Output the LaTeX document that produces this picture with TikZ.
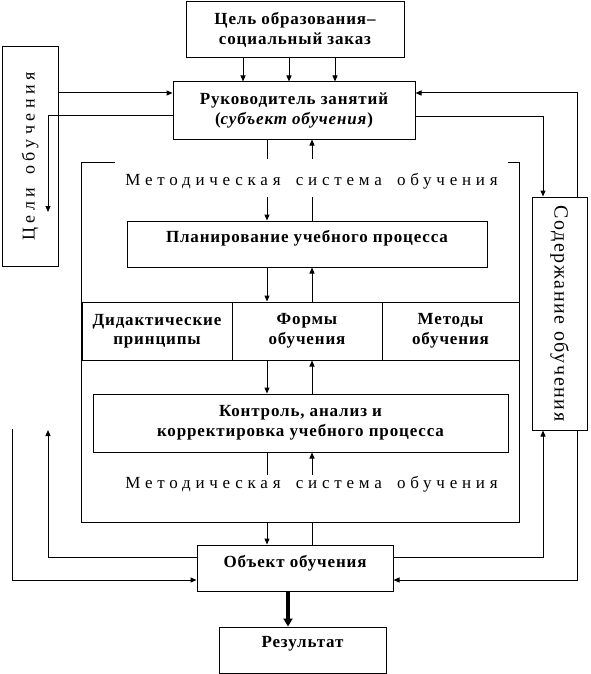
\documentclass[tikz,border=0pt]{standalone}
\usepackage{fontspec}
\setmainfont{Liberation Serif}
\newfontfamily\boxfont[LetterSpace=5]{Liberation Serif}
\newfontfamily\titlefont[LetterSpace=28,WordSpace=1.7]{Liberation Serif}
\newfontfamily\sidefont[LetterSpace=25,WordSpace=1.4]{Liberation Serif}
\newfontfamily\rsidefont[LetterSpace=8]{Liberation Serif}
\usetikzlibrary{arrows.meta}
\tikzset{
  conn/.style={line width=1pt},
  arr/.style={conn, -{Triangle[length=6pt,width=5pt]}},
  fatarr/.style={line width=4pt, -{Triangle[length=8pt,width=9pt]}},
  blk/.style={draw, line width=1pt, inner sep=0pt, align=center,
    font={\fontsize{17}{19.5}\boxfont\bfseries}},
  ttl/.style={inner sep=0pt, anchor=base, font={\fontsize{17}{20}\titlefont}},
}
\begin{document}
\begin{tikzpicture}[x=1pt,y={(0pt,-1pt)}]
\useasboundingbox (0,0) rectangle (590,674);
% column coordinates
\coordinate (cA) at (267,0);
\coordinate (cB) at (312,0);
\coordinate (g1) at (243,0);
\coordinate (g2) at (289,0);
\coordinate (g3) at (335,0);
\coordinate (yA) at (0,93);
\coordinate (yB) at (0,116);
\coordinate (yC) at (0,117);
\coordinate (yD) at (0,557);
\coordinate (yE) at (0,580);
\coordinate (xR1) at (543,0);
\coordinate (xR2) at (577,0);
\coordinate (xT) at (288,0);
\coordinate (lA) at (48,212);
\coordinate (lB) at (48,430);
\coordinate (lC) at (12,429);

% boxes
\node[blk, minimum width=218pt, minimum height=56pt] (goal) at (295,30)
  {Цель образования–\\социальный заказ};
\node[blk, minimum width=242pt, minimum height=57pt] (ruk) at (294,110.5)
  {Руководитель занятий\\(\textit{субъект обучения})};
\node[draw, line width=1pt, inner sep=0pt, minimum width=56pt, minimum height=219pt,
  font={\fontsize{18}{20}\sidefont}] (lbox) at (30,156.5)
  {\rotatebox{90}{Цели обучения}};
\node[draw, line width=1pt, inner sep=0pt, minimum width=55pt, minimum height=233pt,
  font={\fontsize{20}{22}\rsidefont}] (rbox) at (559.5,313.5)
  {\rotatebox{-90}{Содержание обучения}};

% methodical system frame
\node[inner sep=0pt, minimum width=437pt, minimum height=359pt] (msys) at (300.5,342.5) {};
\draw[conn] ([xshift=33pt]msys.north west) -- (msys.north west) -- (msys.south west)
  -- (msys.south east) -- (msys.north east) -- ([xshift=-11pt]msys.north east);
\node[ttl, text height=26pt, text depth=12pt] (t1) at (311.5,185) {Методическая система обучения};
\node[ttl, text height=13pt, text depth=3pt] (t2) at (311.5,488) {Методическая система обучения};

\node[blk, minimum width=360pt, minimum height=46pt, text height=6pt, text depth=10pt] (plan) at (307,244)
  {Планирование учебного процесса};
\node[blk, minimum width=150pt, minimum height=58pt] (dp) at (157,331)
  {Дидактические\\принципы};
\node[blk, minimum width=150pt, minimum height=58pt] (fm) at (307,331)
  {Формы\\обучения};
\node[blk, minimum width=137pt, minimum height=58pt] (md) at (450.5,331)
  {Методы\\обучения};
\node[blk, minimum width=415pt, minimum height=58pt] (ctrl) at (300.5,423)
  {Контроль, анализ и\\корректировка учебного процесса};
\node[blk, minimum width=196pt, minimum height=46pt, text height=7pt, text depth=9pt] (obj) at (295,568)
  {Объект обучения};
\node[blk, minimum width=167pt, minimum height=46pt, text height=5pt, text depth=11pt] (res) at (302.5,650)
  {Результат};

% connectors: goal -> ruk
\foreach \g in {g1,g2,g3} \draw[arr] (goal.south -| \g) -- (ruk.north -| \g);
% left side
\draw[arr] (lbox.east |- yA) -- (ruk.west |- yA);
\draw[arr] (ruk.west |- yB) -| (lA);
\draw[arr] (obj.west |- yD) -| (lB);
\draw[arr] (lC) |- (obj.west |- yE);
% right side
\draw[arr] (ruk.east |- yC) -| (rbox.north -| xR1);
\draw[arr] (rbox.north -| xR2) |- (ruk.east |- yA);
\draw[arr] (obj.east |- yD) -| (rbox.south -| xR1);
\draw[arr] (rbox.south -| xR2) |- (obj.east |- yE);
% central columns
\draw[conn] (ruk.south -| cA) -- (t1.north -| cA);
\draw[arr] (t1.north -| cB) -- (ruk.south -| cB);
\draw[arr] (t1.south -| cA) -- (plan.north -| cA);
\draw[conn] (t1.south -| cB) -- (plan.north -| cB);
\draw[arr] (plan.south -| cA) -- (fm.north -| cA);
\draw[arr] (fm.north -| cB) -- (plan.south -| cB);
\draw[arr] (fm.south -| cA) -- (ctrl.north -| cA);
\draw[arr] (ctrl.north -| cB) -- (fm.south -| cB);
\draw[conn] (ctrl.south -| cA) -- (t2.north -| cA);
\draw[arr] (t2.north -| cB) -- (ctrl.south -| cB);
\draw[arr] (msys.south -| cA) -- (obj.north -| cA);
\draw[conn] (obj.north -| cB) -- (msys.south -| cB);
% result
\draw[fatarr] (obj.south -| xT) -- (res.north -| xT);
\end{tikzpicture}
\end{document}
